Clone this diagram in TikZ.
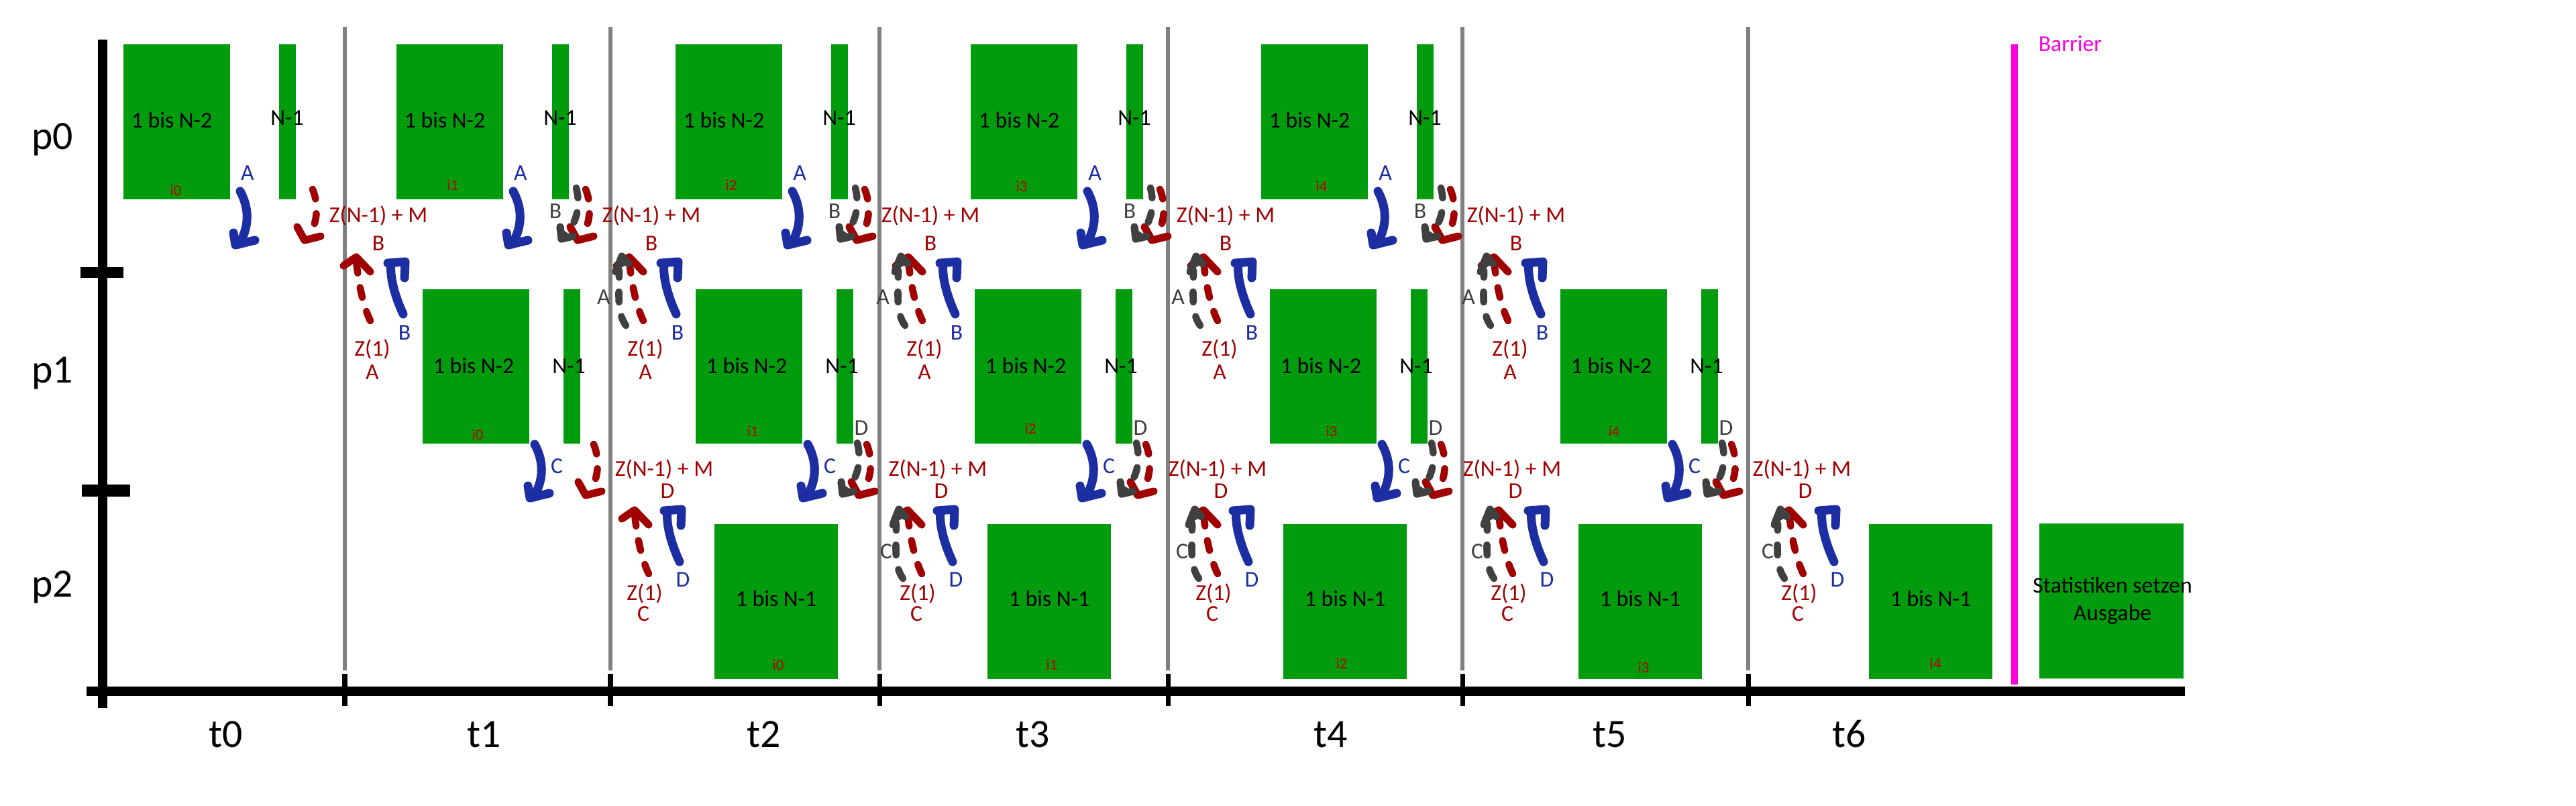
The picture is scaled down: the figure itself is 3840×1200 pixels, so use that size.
\documentclass[tikz,border=0pt]{standalone}
\usepackage{fontspec}
\setmainfont{Carlito}
\definecolor{boxgreen}{RGB}{0,156,14}
\definecolor{dred}{RGB}{160,0,0}
\definecolor{ired}{RGB}{192,0,0}
\definecolor{dblue}{RGB}{28,46,162}
\definecolor{dgray}{RGB}{64,64,64}
\definecolor{lgray}{RGB}{128,128,128}
\definecolor{barrier}{RGB}{255,0,220}
\tikzset{
  lab/.style={font=\fontsize{9.6}{11.5}\selectfont, inner sep=0pt, anchor=base},
  biglab/.style={font=\fontsize{17}{20}\selectfont, inner sep=0pt, anchor=base},
  ilab/.style={font=\fontsize{6.5}{8}\selectfont, inner sep=0pt, anchor=base, text=ired},
  bluestroke/.style={draw=dblue, line width=3.7pt, line cap=round, line join=round},
  dashstroke/.style={line width=3pt, line cap=round, line join=round, dash pattern=on 4.3pt off 6.2pt},
  headstroke/.style={line width=3.2pt, line cap=round, line join=round},
  pics/sendblue/.style={code={
    \draw[bluestroke] (0,0) .. controls (12,22) and (16,50) .. (-2,79);
    \draw[bluestroke] (-10,62) -- (-7,80) -- (22,73);
  }},
  pics/recvblue/.style={code={
    \draw[bluestroke] (0,0) .. controls (-14,-30) and (-20,-58) .. (-18,-74);
    \draw[bluestroke] (-23,-76) -- (3,-78) -- (2,-54);
  }},
  pics/senddash/.style={code={
    \draw[dashstroke, draw=#1] (0,0) .. controls (9,22) and (8,50) .. (-6,70);
    \draw[headstroke, draw=#1] (-23,56) -- (-12,76) -- (12,70);
  }},
  pics/senddashg/.style={code={
    \draw[dashstroke, draw=#1] (0,0) .. controls (5,20) and (3,40) .. (-6,56);
    \draw[headstroke, draw=#1] (-24,58) -- (-22,76) -- (-5,72);
    \fill[#1] (-24,60) -- (-22,76) -- (-7,71) -- cycle;
  }},
  pics/recvdash/.style={code={
    \draw[dashstroke, draw=#1] (0,0) .. controls (-12,-25) and (-18,-60) .. (-21,-90);
    \draw[headstroke, draw=#1] (-40,-82) -- (-21,-95) -- (0,-73);
  }},
  pics/recvdashg/.style={code={
    \draw[dashstroke, draw=#1] (0,0) .. controls (-14,-20) and (-10,-45) .. (-10,-82);
    \draw[headstroke, draw=#1] (-15,-80) -- (-6,-103) -- (4,-92);
    \fill[#1] (-14,-82) -- (-6,-103) -- (3,-92) -- cycle;
  }},
}
\begin{document}
\begin{tikzpicture}[x=0.01cm,y=-0.01cm]
\useasboundingbox (0,0) rectangle (3840,1200);

% time separators
\foreach \g in {514,910,1311,1741,2180,2606}{
  \draw[lgray, line width=1.7pt] (\g,40) -- (\g,999);
  \draw[black, line width=2pt] (\g,1004) -- (\g,1052);
}
% axes
\draw[line width=3.7pt] (153,59) -- (153,1055);
\draw[line width=3.9pt] (129,1030) -- (3257,1030);
\draw[line width=4.6pt] (120,406) -- (184,406);
\draw[line width=5pt] (122,731) -- (194,731);

% barrier
\draw[barrier, line width=2.8pt] (3003,66) -- (3003,1020);
\node[lab, anchor=base west, text=barrier] (barrierlab) at (3038,77) {Barrier};

% process and time labels
\node[biglab] (p0) at (78,222) {p0};
\node[biglab] (p1) at (78,570) {p1};
\node[biglab] (p2) at (78,889) {p2};
\foreach \x/\n in {337/0,722/1,1139/2,1540/3,1984/4,2400/5,2757/6}
  \node[biglab] (t\n) at (\x,1113) {t\n};

% p0 blocks
\foreach \bl/\br/\ix/\iy/\k in {184/416/262/291/0, 591/823/675/283/1, 1007/1239/1090/283/2, 1447/1679/1523/285/3, 1880/2112/1970/285/4}{
  \fill[boxgreen] (\bl,66) rectangle ++(159,231);
  \fill[boxgreen] (\br,66) rectangle ++(25,231);
  \node[lab] (pa\k) at (\bl+72,190) {1 bis N-2};
  \node[lab] (pb\k) at (\br+12,186) {N-1};
  \node[ilab] (pi\k) at (\ix,\iy) {i\k};
}
% p1 blocks
\foreach \bl/\br/\ix/\iy/\k in {630/840/712/655/0, 1037/1247/1122/650/1, 1453/1663/1536/646/2, 1893/2103/1985/650/3, 2326/2536/2406/650/4}{
  \fill[boxgreen] (\bl,431) rectangle ++(159,230);
  \fill[boxgreen] (\br,431) rectangle ++(25,230);
  \node[lab] (qa\k) at (\bl+76,556) {1 bis N-2};
  \node[lab] (qb\k) at (\br+8,556) {N-1};
  \node[ilab] (qi\k) at (\ix,\iy) {i\k};
}
% p2 blocks
\foreach \bl/\ix/\iy/\k in {1065/1160/998/0, 1472/1568/998/1, 1913/2000/996/2, 2353/2450/1002/3, 2786/2885/996/4}{
  \fill[boxgreen] (\bl,781) rectangle ++(184,231);
  \node[lab] (ra\k) at (\bl+92,903) {1 bis N-1};
  \node[ilab] (ri\k) at (\ix,\iy) {i\k};
}
\fill[boxgreen] (3040,780) rectangle (3255,1011);
\node[lab] (stat1) at (3149,883) {Statistiken setzen};
\node[lab] (stat2) at (3149,924) {Ausgabe};

% exchange p0 <-> p1
\foreach \bl/\br/\pl/\k in {184/416/630/0, 591/823/1037/1, 1007/1239/1453/2, 1447/1679/1893/3, 1880/2112/2326/4}{
  \pic at (\bl+174,285) {sendblue};
  \node[lab, text=dblue] (uA\k) at (\bl+185,268) {A};
  \pic at (\br+50,282) {senddash=dred};
  \ifnum\k>0
    \pic at (\br+36,280) {senddashg=dgray};
    \node[lab, text=dgray] (uBg\k) at (\br+5,325) {B};
  \fi
  \node[lab, text=dred] (uZ\k) at (\pl-66,331) {Z(N-1) + M};
  \node[lab, text=dred] (uB\k) at (\pl-66,373) {B};
  \pic at (\pl-78,478) {recvdash=dred};
  \ifnum\k>0
    \pic at (\pl-104,485) {recvdashg=dgray};
    \node[lab, text=dgray] (uAg\k) at (\pl-137,453) {A};
  \fi
  \pic at (\pl-29,468) {recvblue};
  \node[lab, text=dred] (uZo\k) at (\pl-75,530) {Z(1)};
  \node[lab, text=dred] (uAr\k) at (\pl-75,565) {A};
  \node[lab, text=dblue] (uBb\k) at (\pl-27,506) {B};
}

% exchange p1 <-> p2
\foreach \bl/\br/\pl/\zc/\k in {630/840/1065/990/1, 1037/1247/1472/1398/2, 1453/1663/1913/1815/3, 1893/2103/2353/2254/4, 2326/2536/2786/2686/5}{
  \pic at (\bl+167,662) {sendblue};
  \node[lab, text=dblue] (lC\k) at (\bl+200,705) {C};
  \pic at (\br+45,662) {senddash=dred};
  \ifnum\k>1
    \pic at (\br+31,660) {senddashg=dgray};
    \node[lab, text=dgray] (lDg\k) at (\br+37,648) {D};
  \fi
  \node[lab, text=dred] (lZ\k) at (\zc,709) {Z(N-1) + M};
  \node[lab, text=dred] (lD\k) at (\zc+5,742) {D};
  \pic at (\pl-98,855) {recvdash=dred};
  \ifnum\k>1
    \pic at (\pl-126,862) {recvdashg=dgray};
    \node[lab, text=dgray] (lCg\k) at (\pl-151,832) {C};
  \fi
  \pic at (\pl-52,837) {recvblue};
  \node[lab, text=dred] (lZo\k) at (\pl-104,894) {Z(1)};
  \node[lab, text=dred] (lCr\k) at (\pl-106,925) {C};
  \node[lab, text=dblue] (lDb\k) at (\pl-47,874) {D};
}
\end{tikzpicture}
\end{document}
